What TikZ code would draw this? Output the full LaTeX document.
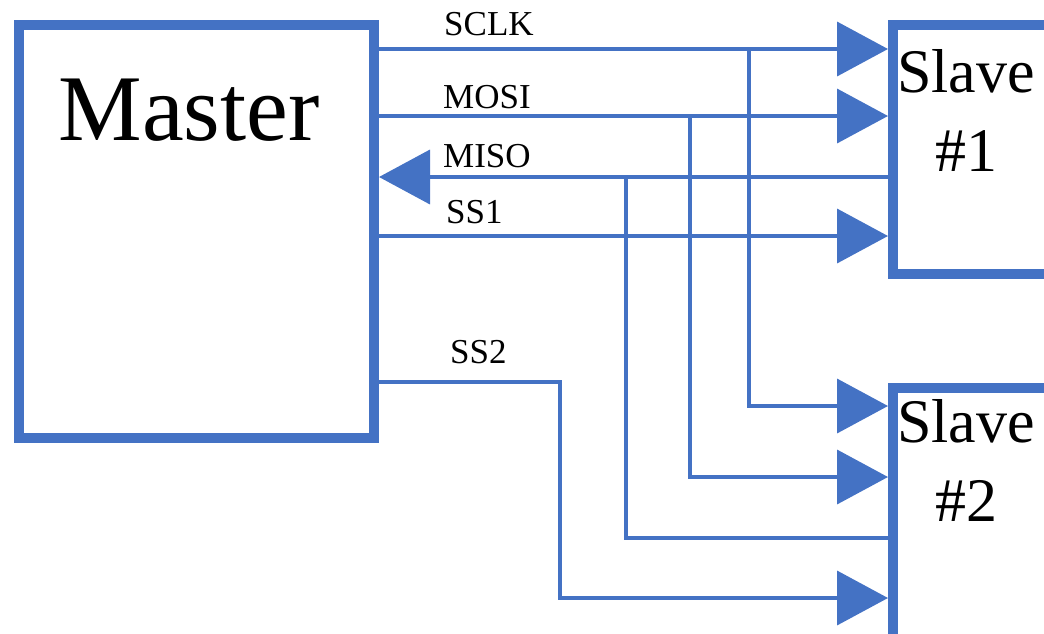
\documentclass[tikz,border=0pt]{standalone}
\usepackage{fontspec}
\setmainfont{Liberation Serif}
\usepackage{tikz}
\usetikzlibrary{arrows.meta}
\definecolor{spiblue}{RGB}{68,114,196}
\tikzset{
  unit/.style={draw=spiblue,line width=10pt,fill=white,inner sep=0pt,anchor=north west},
  sig/.style={draw=spiblue,line width=3.8pt},
  signame/.style={anchor=base west,inner sep=0pt,font=\fontsize{35}{40}\selectfont},
  unitname/.style={inner sep=0pt,align=center},
}

\begin{document}
\begin{tikzpicture}[x=1pt,y=-1pt,>={Triangle[length=51pt,width=54pt]}]
  \useasboundingbox (0,0) rectangle (1044,633);
  \clip (0,0) rectangle (1044,633);
  % boxes
  \node[unit,minimum width=355pt,minimum height=413pt] (master) at (14,20) {};
  \node[unit,minimum width=230pt,minimum height=249pt] (slave1) at (888,20) {};
  \node[unit,minimum width=230pt,minimum height=280pt] (slave2) at (888,383) {};
  \node[unitname,anchor=base,font=\fontsize{94}{94}\selectfont] (master name) at (189,140) {Master};
  \node[unitname,anchor=north,font=\fontsize{62}{79}\selectfont] (slave1 name) at (966,49) {Slave\\\#1};
  \node[unitname,anchor=north,font=\fontsize{62}{79}\selectfont] (slave2 name) at (966,399) {Slave\\\#2};
  % taps down to slave 2
  \coordinate (sclk tap) at (749,49);
  \coordinate (mosi tap) at (690,116);
  \coordinate (miso tap) at (626,177);
  \coordinate (ss2 bend) at (560,382);
  % bus to slave 1
  \foreach \y in {49,116,236}
    \draw[sig,->] (master.east |- 0,\y) -- (slave1.west |- 0,\y);
  \draw[sig,->] (slave1.west |- miso tap) -- (master.east |- miso tap);
  % bus to slave 2
  \draw[sig,->] (sclk tap) |- (slave2.west |- 0,406);
  \draw[sig,->] (mosi tap) |- (slave2.west |- 0,477);
  \draw[sig] (slave2.west |- 0,538) -| (miso tap);
  \draw[sig,->] (master.east |- ss2 bend) -- (ss2 bend) |- (slave2.west |- 0,598);
  % signal names
  \node[signame] (sclk name) at (444,35) {SCLK};
  \node[signame] (mosi name) at (443,108) {MOSI};
  \node[signame] (miso name) at (443,167) {MISO};
  \node[signame] (ss1 name) at (446,223) {SS1};
  \node[signame] (ss2 name) at (450,363) {SS2};
\end{tikzpicture}
\end{document}
